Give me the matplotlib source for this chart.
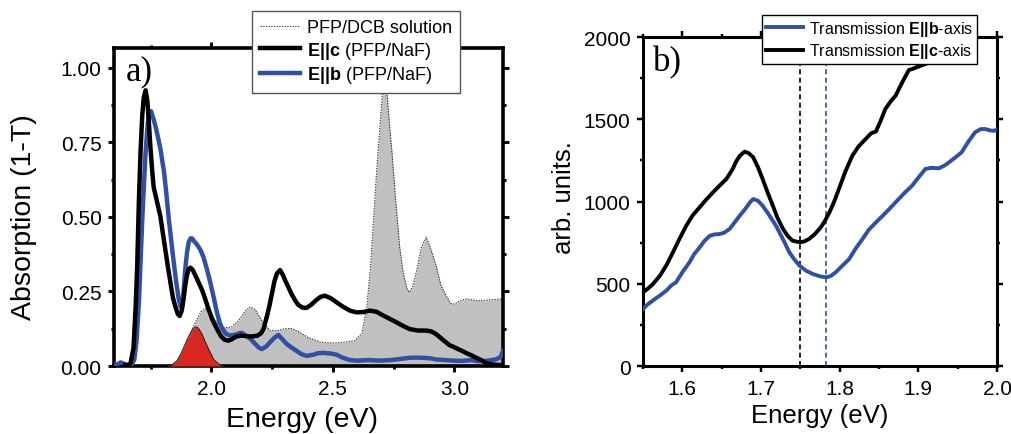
import matplotlib
matplotlib.use("Agg")
import matplotlib.pyplot as plt
from matplotlib.ticker import MultipleLocator, FormatStrFormatter
from matplotlib.lines import Line2D

plt.rcParams['font.family'] = ['Liberation Sans', 'DejaVu Sans']
plt.rcParams['mathtext.fontset'] = 'custom'
plt.rcParams['mathtext.rm'] = 'Liberation Sans'
plt.rcParams['mathtext.bf'] = 'Liberation Sans:bold'

# ---------------- panel a: absorption spectra ----------------
energy_c = [1.645, 1.655, 1.668, 1.68, 1.689, 1.695, 1.702, 1.709, 1.716, 1.722,
            1.73, 1.737, 1.743, 1.75, 1.757, 1.763, 1.77, 1.78, 1.791, 1.80,
            1.811, 1.822, 1.832, 1.842, 1.852, 1.862, 1.87, 1.878, 1.886, 1.893,
            1.9, 1.907, 1.914, 1.924, 1.934, 1.948, 1.962, 1.975, 1.989, 2.005,
            2.023, 2.04, 2.055, 2.07, 2.085, 2.10, 2.12, 2.14, 2.16, 2.175,
            2.19, 2.205, 2.215, 2.23, 2.24, 2.25, 2.26, 2.27, 2.283, 2.295,
            2.305, 2.317, 2.33, 2.345, 2.358, 2.375, 2.392, 2.41, 2.433, 2.45,
            2.467, 2.49, 2.515, 2.54, 2.57, 2.597, 2.625, 2.652, 2.68, 2.706,
            2.735, 2.761, 2.79, 2.816, 2.85, 2.884, 2.905, 2.925, 2.95, 2.98,
            3.0, 3.02, 3.034, 3.05, 3.07, 3.089, 3.11, 3.13, 3.15, 3.17, 3.2]
absorb_c = [0.003, 0.002, 0.01, 0.06, 0.2, 0.33, 0.55, 0.72, 0.84, 0.9,
            0.925, 0.89, 0.82, 0.73, 0.655, 0.6, 0.575, 0.54, 0.5, 0.45,
            0.39, 0.33, 0.28, 0.23, 0.2, 0.175, 0.168, 0.185, 0.225, 0.27,
            0.305, 0.325, 0.33, 0.322, 0.305, 0.28, 0.255, 0.225, 0.19, 0.155,
            0.125, 0.1, 0.088, 0.085, 0.09, 0.098, 0.102, 0.101, 0.099, 0.1,
            0.102, 0.11, 0.125, 0.17, 0.205, 0.245, 0.285, 0.31, 0.322, 0.305,
            0.285, 0.265, 0.242, 0.22, 0.205, 0.196, 0.195, 0.205, 0.222, 0.232,
            0.236, 0.228, 0.214, 0.2, 0.186, 0.18, 0.181, 0.186, 0.182, 0.17,
            0.158, 0.147, 0.134, 0.124, 0.119, 0.119, 0.116, 0.107, 0.09, 0.07,
            0.063, 0.055, 0.05, 0.043, 0.036, 0.028, 0.02, 0.01, 0.006, 0.004, 0.003]

energy_b = [1.6, 1.615, 1.627, 1.64, 1.655, 1.67, 1.683, 1.692, 1.702, 1.709,
            1.716, 1.723, 1.73, 1.738, 1.745, 1.752, 1.76, 1.77, 1.78, 1.791,
            1.798, 1.805, 1.815, 1.825, 1.836, 1.846, 1.856, 1.866, 1.873, 1.88,
            1.886, 1.893, 1.9, 1.907, 1.914, 1.921, 1.93, 1.941, 1.955, 1.968,
            1.982, 1.996, 2.01, 2.023, 2.035, 2.044, 2.06, 2.078, 2.1, 2.115,
            2.126, 2.14, 2.16, 2.18, 2.195, 2.208, 2.225, 2.242, 2.26, 2.276,
            2.29, 2.31, 2.33, 2.351, 2.37, 2.392, 2.42, 2.44, 2.46, 2.49,
            2.515, 2.54, 2.57, 2.6, 2.65, 2.69, 2.74, 2.78, 2.82, 2.86,
            2.9, 2.925, 2.96, 3.0, 3.03, 3.07, 3.1, 3.14, 3.17, 3.19, 3.2]
absorb_b = [0.004, 0.006, 0.012, 0.008, 0.003, 0.004, 0.02, 0.08, 0.21, 0.35,
            0.49, 0.61, 0.72, 0.81, 0.85, 0.855, 0.835, 0.806, 0.77, 0.728,
            0.69, 0.655, 0.58, 0.495, 0.415, 0.345, 0.28, 0.225, 0.2, 0.2,
            0.25, 0.325, 0.38, 0.415, 0.428, 0.428, 0.418, 0.408, 0.39, 0.365,
            0.325, 0.28, 0.23, 0.18, 0.145, 0.128, 0.108, 0.102, 0.105, 0.11,
            0.111, 0.103, 0.092, 0.075, 0.062, 0.057, 0.065, 0.08, 0.095, 0.104,
            0.092, 0.074, 0.062, 0.051, 0.04, 0.034, 0.038, 0.043, 0.044, 0.042,
            0.038, 0.028, 0.02, 0.018, 0.02, 0.018, 0.02, 0.024, 0.028, 0.028,
            0.026, 0.022, 0.02, 0.018, 0.017, 0.02, 0.016, 0.018, 0.022, 0.03, 0.05]

energy_sol = [1.84, 1.87, 1.9, 1.93, 1.96, 1.975, 2.0, 2.03, 2.05, 2.08,
              2.11, 2.14, 2.16, 2.18, 2.21, 2.24, 2.27, 2.30, 2.33, 2.36,
              2.40, 2.45, 2.5, 2.55, 2.59, 2.62, 2.64, 2.655, 2.68, 2.70,
              2.713, 2.727, 2.745, 2.76, 2.775, 2.79, 2.805, 2.816, 2.83, 2.845,
              2.865, 2.884, 2.9, 2.925, 2.945, 2.966, 2.985, 3.0, 3.025, 3.05,
              3.1, 3.15, 3.2]
absorb_sol = [0.0, 0.03, 0.08, 0.14, 0.185, 0.192, 0.17, 0.14, 0.128, 0.13,
              0.15, 0.185, 0.198, 0.19, 0.15, 0.12, 0.118, 0.125, 0.126, 0.115,
              0.095, 0.08, 0.077, 0.08, 0.085, 0.11, 0.2, 0.33, 0.65, 0.87,
              1.03, 0.87, 0.7, 0.54, 0.4, 0.31, 0.26, 0.247, 0.27, 0.32,
              0.4, 0.432, 0.4, 0.337, 0.27, 0.236, 0.21, 0.208, 0.22, 0.225,
              0.219, 0.222, 0.225]

energy_fit = [1.82, 1.84, 1.86, 1.88, 1.90, 1.915, 1.927, 1.937, 1.947, 1.96,
              1.975, 1.99, 2.01, 2.03, 2.05]
absorb_fit = [0.0, 0.005, 0.018, 0.05, 0.088, 0.112, 0.127, 0.132, 0.127, 0.11,
              0.082, 0.055, 0.022, 0.007, 0.0]

# ---------------- panel b: transmission ----------------
trans_energy_c = [1.550, 1.556, 1.562, 1.5715, 1.58, 1.588, 1.596, 1.605, 1.613, 1.622,
                  1.63, 1.639, 1.647, 1.656, 1.664, 1.668, 1.673, 1.679, 1.684, 1.69,
                  1.696, 1.702, 1.708, 1.715, 1.721, 1.728, 1.734, 1.74, 1.749, 1.755,
                  1.761, 1.768, 1.776, 1.781, 1.787, 1.793, 1.799, 1.807, 1.816, 1.824,
                  1.833, 1.84, 1.846, 1.852, 1.858, 1.865, 1.871, 1.878, 1.884, 1.888,
                  1.892, 1.9, 1.909, 1.916, 1.922, 1.93, 1.94, 1.955]
trans_c = [448, 470, 495, 549, 615, 691, 770, 853, 915, 965,
           1010, 1056, 1095, 1137, 1198, 1240, 1278, 1303, 1295, 1269,
           1210, 1137, 1060, 975, 900, 833, 790, 762, 752, 757,
           772, 800, 843, 880, 934, 1000, 1076, 1180, 1278, 1335,
           1380, 1415, 1425, 1490, 1562, 1610, 1643, 1710, 1765, 1800,
           1805, 1820, 1836, 1850, 1856, 1897, 1960, 2060]

trans_energy_b = [1.550, 1.556, 1.563, 1.571, 1.58, 1.586, 1.592, 1.6, 1.609, 1.615,
                  1.622, 1.628, 1.635, 1.641, 1.647, 1.653, 1.66, 1.666, 1.673, 1.68,
                  1.686, 1.69, 1.696, 1.702, 1.71, 1.719, 1.728, 1.736, 1.742, 1.749,
                  1.757, 1.766, 1.775, 1.783, 1.789, 1.795, 1.803, 1.812, 1.82, 1.829,
                  1.837, 1.846, 1.855, 1.863, 1.869, 1.875, 1.883, 1.892, 1.9, 1.909,
                  1.917, 1.926, 1.933, 1.939, 1.947, 1.955, 1.963, 1.972, 1.979, 1.985,
                  1.991, 1.997, 2.0]
trans_b = [346, 375, 400, 427, 460, 490, 509, 570, 630, 680,
           721, 760, 792, 800, 802, 810, 833, 870, 914, 955,
           995, 1015, 1005, 975, 920, 853, 770, 691, 650, 610,
           580, 559, 545, 539, 548, 570, 608, 650, 712, 772,
           828, 873, 915, 954, 985, 1015, 1055, 1096, 1145, 1198,
           1205, 1202, 1218, 1238, 1268, 1299, 1360, 1420, 1440, 1441,
           1432, 1430, 1440]

min_c = 1.75
min_b = 1.783

BLUE = '#3050a6'
RED = '#d9281f'
GRAY = '#c0c0c0'

fig = plt.figure(figsize=(10.12, 4.35), dpi=100)
ax1 = fig.add_axes([0.1127, 0.1563, 0.3843, 0.7311])
ax2 = fig.add_axes([0.6354, 0.1563, 0.3498, 0.7563])


def style_axes(ax, lw):
    for s in ax.spines.values():
        s.set_linewidth(lw)
    ax.tick_params(which='both', direction='out', top=True, right=True,
                   labeltop=False, labelright=False, width=lw * 0.8)
    ax.tick_params(which='major', length=4.5, pad=4.5)
    ax.tick_params(which='minor', length=2.5)


# panel a
ax1.fill_between(energy_sol, absorb_sol, 0, color=GRAY, lw=0, zorder=1)
ax1.plot(energy_sol, absorb_sol, ls=(0, (1.2, 1.2)), color='#333333', lw=0.8, zorder=2)
ax1.fill_between(energy_fit, absorb_fit, 0, color=RED, lw=0, zorder=3)
ax1.plot(energy_fit, absorb_fit, color='#222222', lw=0.7, zorder=3)
ax1.plot(energy_b, absorb_b, color=BLUE, lw=3.2, zorder=4, solid_joinstyle='round')
ax1.plot(energy_c, absorb_c, color='black', lw=3.2, zorder=5, solid_joinstyle='round')
ax1.set_xlim(1.6, 3.2)
ax1.set_ylim(0, 1.067)
ax1.xaxis.set_major_locator(MultipleLocator(0.5))
ax1.xaxis.set_minor_locator(MultipleLocator(0.25))
ax1.yaxis.set_major_locator(MultipleLocator(0.25))
ax1.yaxis.set_minor_locator(MultipleLocator(0.125))
ax1.yaxis.set_major_formatter(FormatStrFormatter('%.2f'))
style_axes(ax1, 2.6)
ax1.tick_params(labelsize=15)
ax1.set_xlabel('Energy (eV)', fontsize=20.5)
ax1.set_ylabel('Absorption (1-T)', fontsize=20.5)
ax1.xaxis.set_label_coords(0.483, -0.125)
ax1.yaxis.set_label_coords(-0.198, 0.47)
ax1.text(0.031, 0.9025, 'a)', transform=ax1.transAxes, fontsize=25,
         family='Liberation Serif', ha='left', va='baseline')

handles_a = [Line2D([], [], ls=(0, (1.2, 1.2)), color='#333333', lw=0.8),
             Line2D([], [], color='black', lw=3.2),
             Line2D([], [], color=BLUE, lw=3.2)]
labels_a = ['PFP/DCB solution', r'$\mathbf{E||c}$ (PFP/NaF)', r'$\mathbf{E||b}$ (PFP/NaF)']
leg_a = fig.legend(handles_a, labels_a, loc='upper left', bbox_to_anchor=(0.249, 0.9724),
                   bbox_transform=fig.transFigure, borderaxespad=0, fontsize=13,
                   fancybox=False, framealpha=1, edgecolor='#555555', handlelength=2.2,
                   handletextpad=0.4, labelspacing=0.2, borderpad=0.45)
leg_a.get_frame().set_linewidth(1.0)
leg_a.set_zorder(10)

# panel b
ax2.axvline(min_c, color='black', ls=(0, (3, 2)), lw=1.2, zorder=1)
ax2.axvline(min_b, color=BLUE, ls=(0, (3, 2)), lw=1.2, zorder=1)
ax2.plot(trans_energy_c, trans_c, color='black', lw=2.8, zorder=3)
ax2.plot(trans_energy_b, trans_b, color=BLUE, lw=2.8, zorder=3)
ax2.set_xlim(1.55, 2.0)
ax2.set_ylim(0, 2000)
ax2.xaxis.set_major_locator(MultipleLocator(0.1))
ax2.xaxis.set_minor_locator(MultipleLocator(0.05))
ax2.yaxis.set_major_locator(MultipleLocator(500))
ax2.yaxis.set_minor_locator(MultipleLocator(250))
style_axes(ax2, 2.2)
ax2.tick_params(labelsize=15)
ax2.set_xlabel('Energy (eV)', fontsize=18.5)
ax2.set_ylabel('arb. units.', fontsize=18.5)
ax2.yaxis.set_label_coords(-0.189, 0.515)
ax2.text(0.027, 0.8976, 'b)', transform=ax2.transAxes, fontsize=25,
         family='Liberation Serif', ha='left', va='baseline')

handles_b = [Line2D([], [], color=BLUE, lw=2.8), Line2D([], [], color='black', lw=2.8)]
labels_b = [r'Transmission $\mathbf{E||b}$-axis', r'Transmission $\mathbf{E||c}$-axis']
leg_b = fig.legend(handles_b, labels_b, loc='upper left', bbox_to_anchor=(0.753, 0.9632),
                   bbox_transform=fig.transFigure, borderaxespad=0, fontsize=11.5,
                   fancybox=False, framealpha=1, edgecolor='black', handlelength=2.3,
                   handletextpad=0.36, labelspacing=0.2, borderpad=0.25)
leg_b.get_frame().set_linewidth(1.0)

fig.savefig('out.png', dpi=100)
